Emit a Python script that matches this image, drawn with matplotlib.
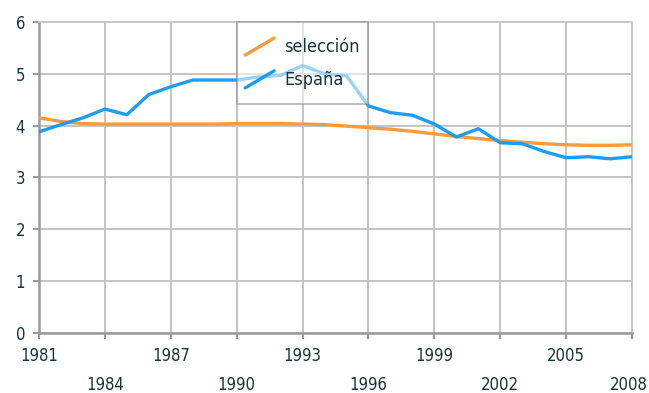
import matplotlib
matplotlib.use('Agg')
import matplotlib.pyplot as plt
import matplotlib.transforms as mtransforms
from matplotlib.legend_handler import HandlerBase
from matplotlib.lines import Line2D

plt.rcParams['font.family'] = ['DejaVu Sans']
plt.rcParams['font.stretch'] = 'condensed'

years = list(range(1981, 2009))
seleccion = [4.15, 4.08, 4.04, 4.03, 4.03, 4.03, 4.03, 4.03, 4.03, 4.04,
             4.04, 4.04, 4.03, 4.02, 3.99, 3.96, 3.93, 3.89, 3.84, 3.79,
             3.75, 3.71, 3.68, 3.65, 3.63, 3.62, 3.62, 3.63]
espana = [3.88, 4.02, 4.15, 4.32, 4.21, 4.60, 4.75, 4.88, 4.88, 4.88,
          4.94, 4.97, 5.16, 5.00, 4.96, 4.38, 4.25, 4.20, 4.03, 3.78,
          3.94, 3.67, 3.65, 3.50, 3.38, 3.40, 3.36, 3.40]
xticks = list(range(1981, 2009, 3))
txt = '#15343a'


class DiagHandler(HandlerBase):
    # slanted legend key, centred in a tall row
    def create_artists(self, legend, orig_handle, xdescent, ydescent,
                       width, height, fontsize, trans):
        mid = -ydescent + height / 2
        half = 0.26 * height
        ln = Line2D([-xdescent, -xdescent + width],
                    [mid - half, mid + half],
                    color=orig_handle.get_color(),
                    lw=orig_handle.get_linewidth(),
                    solid_capstyle='round')
        ln.set_transform(trans)
        return [ln]


fig = plt.figure(figsize=(6.49, 3.93), dpi=100)
ax = fig.add_axes([0.060, 0.153, 0.914, 0.791])

l1, = ax.plot(years, seleccion, color='#ff9a3c', lw=2.4, label='selección', zorder=3)
l2, = ax.plot(years, espana, color='#1c9cf2', lw=2.4, label='España', zorder=3)

ax.set_xlim(1981, 2008)
ax.set_ylim(0, 6)
ax.set_xticks(xticks)
ax.set_xticklabels([str(y) for y in xticks])
ax.set_yticks(range(0, 7))
ax.grid(True, color='#c4c4c4', lw=1.4)
ax.set_axisbelow(True)

for s in ['top', 'right']:
    ax.spines[s].set_color('#c8c8c8')
    ax.spines[s].set_linewidth(1.4)
for s in ['left', 'bottom']:
    ax.spines[s].set_color('#9a9a9a')
    ax.spines[s].set_linewidth(1.8)

ax.tick_params(axis='both', colors='#9a9a9a', length=4, width=1.5,
               labelcolor=txt, labelsize=12)
ax.tick_params(axis='x', pad=6)
ax.tick_params(axis='y', pad=6)
# two rows of year labels
for t in ax.xaxis.get_major_ticks()[1::2]:
    t.set_pad(27)
# keep the last year inside the figure
last = ax.xaxis.get_major_ticks()[-1].label1
last.set_transform(last.get_transform() +
                   mtransforms.ScaledTranslation(-3 / 100, 0, fig.dpi_scale_trans))

leg = ax.legend(handles=[l1, l2], loc='upper left', bbox_to_anchor=(0.334, 1.0),
                handler_map={Line2D: DiagHandler()}, fontsize=13,
                frameon=True, fancybox=False, edgecolor='#8a8a8a',
                framealpha=0.55, borderpad=0.45, labelspacing=0.0,
                handlelength=1.6, handleheight=2.42, handletextpad=0.55,
                borderaxespad=0)
leg.get_frame().set_linewidth(1.4)
for t in leg.get_texts():
    t.set_color(txt)

fig.savefig('out.png', dpi=100)
